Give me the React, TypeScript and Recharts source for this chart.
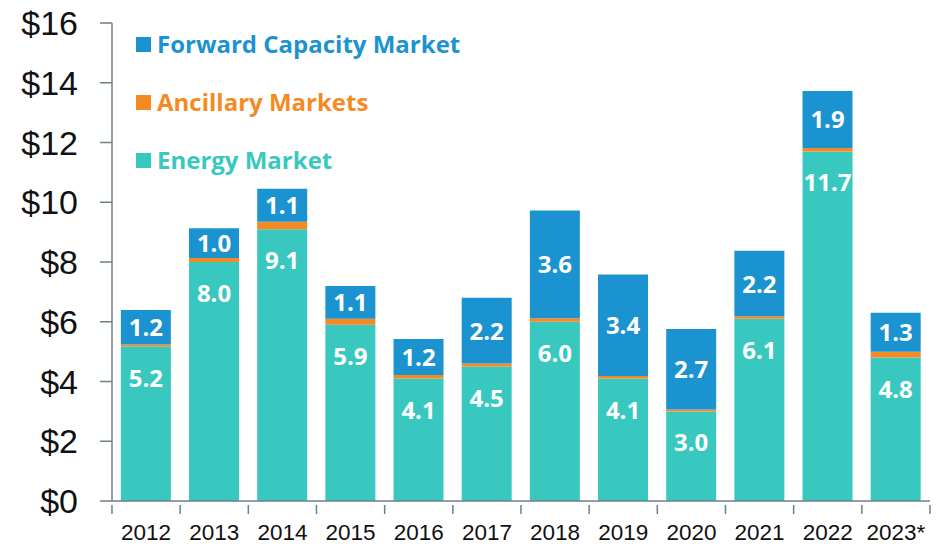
import { BarChart, Bar, XAxis, YAxis, LabelList } from "recharts"

const years = ["2012", "2013", "2014", "2015", "2016", "2017", "2018", "2019", "2020", "2021", "2022", "2023*"]
const energy = [5.17, 8.0, 9.1, 5.9, 4.1, 4.5, 6.0, 4.1, 3.0, 6.1, 11.7, 4.8]
const ancillary = [0.07, 0.13, 0.25, 0.2, 0.12, 0.1, 0.12, 0.08, 0.06, 0.08, 0.12, 0.2]
const capacity = [1.15, 1.0, 1.1, 1.1, 1.2, 2.2, 3.6, 3.4, 2.7, 2.2, 1.9, 1.3]
const energyLabels = ["5.2", "8.0", "9.1", "5.9", "4.1", "4.5", "6.0", "4.1", "3.0", "6.1", "11.7", "4.8"]
const capacityLabels = ["1.2", "1.0", "1.1", "1.1", "1.2", "2.2", "3.6", "3.4", "2.7", "2.2", "1.9", "1.3"]
const yTicks = [0, 2, 4, 6, 8, 10, 12, 14, 16]

const data = years.map((y, i) => ({
  year: y,
  energy: energy[i],
  ancillary: ancillary[i],
  capacity: capacity[i],
  eLabel: energyLabels[i],
  cLabel: capacityLabels[i],
}))

const BLUE = "#1B93D0"
const ORANGE = "#F58A23"
const TEAL = "#39C8C0"
const AXIS = "#6F7F8A"
const labelFont = "'Open Sans', sans-serif"

function XTick(props: any) {
  const { x, y, payload, index } = props
  const half = 34.1
  return (
    <g>
      <line x1={x - half} x2={x - half} y1={y - 4} y2={y + 5} stroke={AXIS} strokeWidth={1.5} />
      {index === years.length - 1 && (
        <line x1={x + half} x2={x + half} y1={y - 4} y2={y + 5} stroke={AXIS} strokeWidth={1.5} />
      )}
      <text x={x} y={y + 31} textAnchor="middle" fontSize={22.5} fill="#111" fontFamily="'Liberation Sans', Arial, sans-serif">
        {payload.value}
      </text>
    </g>
  )
}

function EnergyLabel(props: any) {
  const { x, y, width, value } = props
  return (
    <text x={x + width / 2} y={y + 40} textAnchor="middle" fontSize={24} fontWeight={700} fill="#fff" fontFamily={labelFont}>
      {value}
    </text>
  )
}

function CapLabel(props: any) {
  const { x, y, width, height, value } = props
  return (
    <text x={x + width / 2} y={y + height / 2 + 9} textAnchor="middle" fontSize={24} fontWeight={700} fill="#fff" fontFamily={labelFont}>
      {value}
    </text>
  )
}

const legendItems = [
  { name: "Forward Capacity Market", color: BLUE, y: 44 },
  { name: "Ancillary Markets", color: ORANGE, y: 102 },
  { name: "Energy Market", color: TEAL, y: 160 },
]

export default function App() {
  return (
    <div style={{ position: "absolute", left: 0, top: 0, width: 941, height: 546, background: "#fff" }}>
      <BarChart width={941} height={546} data={data} margin={{ top: 23, right: 11, left: 0, bottom: 0 }} barCategoryGap="13%">
        <XAxis
          dataKey="year"
          height={45}
          stroke={AXIS}
          strokeWidth={1.5}
          tickLine={false}
          tick={<XTick />}
          interval={0}
        />
        <YAxis
          width={112}
          domain={[0, 16]}
          ticks={yTicks}
          stroke={AXIS}
          strokeWidth={1.5}
          tickSize={12}
          tickMargin={22}
          tickFormatter={(v: number) => `$${v}`}
          tick={{ fontSize: 34, fill: "#111", fontFamily: "'Liberation Sans', Arial, sans-serif" }}
          interval={0}
        />
        <Bar dataKey="energy" stackId="a" fill={TEAL} isAnimationActive={false}>
          <LabelList dataKey="eLabel" content={<EnergyLabel />} />
        </Bar>
        <Bar dataKey="ancillary" stackId="a" fill={ORANGE} isAnimationActive={false} />
        <Bar dataKey="capacity" stackId="a" fill={BLUE} isAnimationActive={false}>
          <LabelList dataKey="cLabel" content={<CapLabel />} />
        </Bar>
        {legendItems.map((it) => (
          <g key={it.name}>
            <rect x={136} y={it.y - 7} width={15} height={15} fill={it.color} />
            <text x={157} y={it.y + 9} fontSize={24} fontWeight={700} fill={it.color} fontFamily={labelFont}>
              {it.name}
            </text>
          </g>
        ))}
      </BarChart>
    </div>
  )
}
